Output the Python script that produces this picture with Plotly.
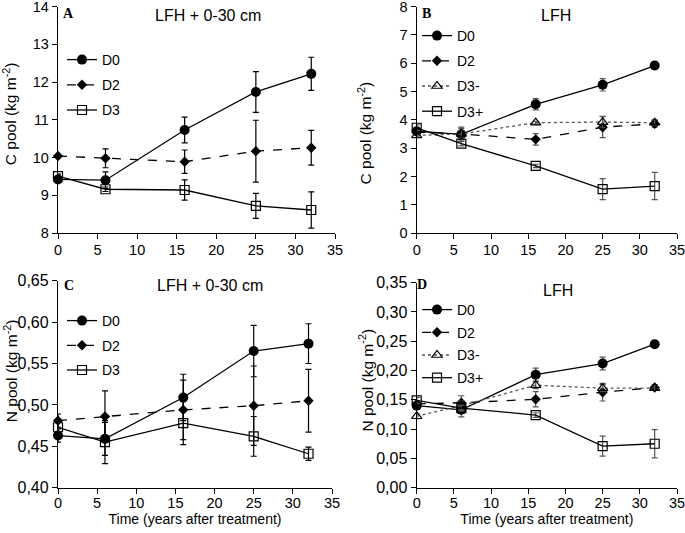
import plotly.graph_objects as go

years = [0, 6, 16, 25, 32]

# Panel A: C pool, LFH + 0-30 cm
a_d0 = [9.42, 9.40, 10.73, 11.74, 12.22]
a_d0_err = [0.06, 0.22, 0.34, 0.54, 0.44]
a_d2 = [10.04, 9.98, 9.89, 10.17, 10.26]
a_d2_err = [0.03, 0.25, 0.31, 0.82, 0.46]
a_d3 = [9.51, 9.16, 9.14, 8.72, 8.61]
a_d3_err = [0.05, 0.06, 0.27, 0.33, 0.48]

# Panel B: C pool, LFH
b_d0 = [3.60, 3.49, 4.55, 5.24, 5.92]
b_d0_err = [0.10, 0.25, 0.20, 0.22, 0.12]
b_d2 = [3.57, 3.50, 3.31, 3.74, 3.86]
b_d2_err = [0.05, 0.20, 0.20, 0.37, 0.12]
b_d3m = [3.45, 3.50, 3.90, 3.92, 3.90]
b_d3m_err = [0.05, 0.10, 0.05, 0.20, 0.10]
b_d3p = [3.72, 3.16, 2.37, 1.55, 1.66]
b_d3p_err = [0.10, 0.08, 0.06, 0.37, 0.48]

# Panel C: N pool, LFH + 0-30 cm
c_d0 = [0.463, 0.459, 0.509, 0.565, 0.574]
c_d0_err = [0.008, 0.020, 0.028, 0.031, 0.024]
c_d2 = [0.481, 0.486, 0.494, 0.499, 0.505]
c_d2_err = [0.008, 0.031, 0.036, 0.048, 0.038]
c_d3 = [0.473, 0.455, 0.478, 0.462, 0.441]
c_d3_err = [0.010, 0.026, 0.026, 0.024, 0.008]

# Panel D: N pool, LFH
d_d0 = [0.140, 0.133, 0.193, 0.212, 0.245]
d_d0_err = [0.005, 0.012, 0.011, 0.011, 0.004]
d_d2 = [0.143, 0.145, 0.151, 0.163, 0.171]
d_d2_err = [0.005, 0.012, 0.013, 0.015, 0.005]
d_d3m = [0.122, 0.140, 0.175, 0.170, 0.170]
d_d3m_err = [0.004, 0.008, 0.006, 0.006, 0.004]
d_d3p = [0.149, 0.136, 0.124, 0.071, 0.075]
d_d3p_err = [0.005, 0.005, 0.004, 0.017, 0.024]

x_ticks = [0, 5, 10, 15, 20, 25, 30, 35]
x_title = "Time (years after treatment)"
c_title = "C pool (kg m<sup>-2</sup>)"
n_title = "N pool (kg m<sup>-2</sup>)"

FONT = "Liberation Sans, Arial, sans-serif"
SERIF = "Liberation Serif, Times New Roman, serif"

STYLES = {
    "D0": dict(line=dict(color="black", width=1.3, dash="solid"),
               marker=dict(symbol="circle", size=10, color="black")),
    "D2": dict(line=dict(color="black", width=1.3, dash="dash"),
               marker=dict(symbol="diamond", size=8, color="black")),
    "D3": dict(line=dict(color="black", width=1.3, dash="solid"),
               marker=dict(symbol="square-open", size=9, color="black", line=dict(width=1.2))),
    "D3-": dict(line=dict(color="#555555", width=1.3, dash="dot"),
                marker=dict(symbol="triangle-up-open", size=9, color="black", line=dict(width=1.2))),
    "D3+": dict(line=dict(color="black", width=1.3, dash="solid"),
                marker=dict(symbol="square-open", size=9, color="black", line=dict(width=1.2))),
}

fig = go.Figure()

panels = [
    ("x", "y", "legend", "black",
     [("D0", a_d0, a_d0_err), ("D2", a_d2, a_d2_err), ("D3", a_d3, a_d3_err)]),
    ("x2", "y2", "legend2", "#555555",
     [("D0", b_d0, b_d0_err), ("D2", b_d2, b_d2_err), ("D3-", b_d3m, b_d3m_err), ("D3+", b_d3p, b_d3p_err)]),
    ("x3", "y3", "legend3", "black",
     [("D0", c_d0, c_d0_err), ("D2", c_d2, c_d2_err), ("D3", c_d3, c_d3_err)]),
    ("x4", "y4", "legend4", "#555555",
     [("D0", d_d0, d_d0_err), ("D2", d_d2, d_d2_err), ("D3-", d_d3m, d_d3m_err), ("D3+", d_d3p, d_d3p_err)]),
]

for xa, ya, leg, ecol, series in panels:
    for name, vals, errs in series:
        st = STYLES[name]
        fig.add_trace(go.Scatter(
            x=years, y=vals, name=name, mode="lines+markers",
            line=st["line"], marker=st["marker"],
            error_y=dict(type="data", array=errs, visible=True, color=ecol,
                         thickness=1.2, width=3),
            xaxis=xa, yaxis=ya, legend=leg, legendgroup=leg + name,
            cliponaxis=False,
        ))


def axis_common(tsize, standoff=0):
    return dict(
        showline=True, linecolor="black", linewidth=1.3, ticks="outside",
        ticklen=5, tickwidth=1.3, tickcolor="black", showgrid=False, zeroline=False,
        tickfont=dict(family=FONT, size=tsize, color="black"), mirror=False,
        automargin=False, ticklabeloverflow="allow", ticklabelstandoff=standoff,
    )


xa_dom_left = [58 / 685, 335 / 685]
xa_dom_right = [416.7 / 685, 677 / 685]
xc_dom_left = [58 / 685, 332 / 685]
y_top = [1 - 233 / 533, 1 - 6.7 / 533]
y_bot_c = [1 - 487.7 / 533, 1 - 280.7 / 533]
y_bot_d = [1 - 487.7 / 533, 1 - 282.7 / 533]

xtitle_font = dict(family=FONT, size=14, color="black")

fig.update_layout(
    template="none",
    width=685, height=533,
    margin=dict(l=0, r=0, t=0, b=0, autoexpand=False),
    paper_bgcolor="white", plot_bgcolor="white",
    separators=", ",
    font=dict(family=FONT, size=14, color="black"),
    xaxis=dict(domain=xa_dom_left, anchor="y", range=[0, 35], tickvals=x_ticks, **axis_common(14.5, -2)),
    yaxis=dict(domain=y_top, anchor="x", range=[8, 14], tickvals=[8, 9, 10, 11, 12, 13, 14],
               **axis_common(14.5)),
    xaxis2=dict(domain=xa_dom_right, anchor="y2", range=[0, 35], tickvals=x_ticks, **axis_common(14.5, -2)),
    yaxis2=dict(domain=y_top, anchor="x2", range=[0, 8], tickvals=list(range(0, 9)),
                **axis_common(14.5)),
    xaxis3=dict(domain=xc_dom_left, anchor="y3", range=[0, 35], tickvals=x_ticks,
                title=dict(text=x_title, font=xtitle_font, standoff=0), **axis_common(14.5, -3)),
    yaxis3=dict(domain=y_bot_c, anchor="x3", range=[0.40, 0.65],
                tickvals=[0.40, 0.45, 0.50, 0.55, 0.60, 0.65], tickformat=".2f",
                **axis_common(16)),
    xaxis4=dict(domain=xa_dom_right, anchor="y4", range=[0, 35], tickvals=x_ticks,
                title=dict(text=x_title, font=xtitle_font, standoff=0), **axis_common(14.5, -3)),
    yaxis4=dict(domain=y_bot_d, anchor="x4", range=[0, 0.35],
                tickvals=[0, 0.05, 0.10, 0.15, 0.20, 0.25, 0.30, 0.35], tickformat=".2f",
                **axis_common(16)),
)

leg_common = dict(bgcolor="rgba(0,0,0,0)", borderwidth=0, xanchor="left", yanchor="top",
                  font=dict(family=FONT, size=14, color="black"), itemwidth=30,
                  traceorder="grouped", itemclick=False, itemdoubleclick=False)
fig.update_layout(
    legend=dict(x=62 / 685, y=1 - 44 / 533, tracegroupgap=4, **leg_common),
    legend2=dict(x=417 / 685, y=1 - 20 / 533, tracegroupgap=4, **leg_common),
    legend3=dict(x=62 / 685, y=1 - 305 / 533, tracegroupgap=3.5, **leg_common),
    legend4=dict(x=417 / 685, y=1 - 294 / 533, tracegroupgap=1.5, **leg_common),
)

annotations = [
    ("x domain", "y domain", 0.037, 0.972, "<b>A</b>", SERIF, 14, 0),
    ("x domain", "y domain", 0.54, 0.959, "LFH + 0-30 cm", FONT, 16, 0),
    ("x2 domain", "y2 domain", 0.036, 0.972, "<b>B</b>", SERIF, 14, 0),
    ("x2 domain", "y2 domain", 0.536, 0.963, "LFH", FONT, 16, 0),
    ("x3 domain", "y3 domain", 0.04, 0.979, "<b>C</b>", SERIF, 14, 0),
    ("x3 domain", "y3 domain", 0.555, 0.979, "LFH + 0-30 cm", FONT, 16, 0),
    ("x4 domain", "y4 domain", 0.019, 0.989, "<b>D</b>", SERIF, 14, 0),
    ("x4 domain", "y4 domain", 0.542, 0.961, "LFH", FONT, 16, 0),
    ("paper", "y domain", 10 / 685, 0.525, c_title, FONT, 15.5, -90),
    ("paper", "y2 domain", 365 / 685, 0.44, c_title, FONT, 15.5, -90),
    ("paper", "y3 domain", 10.5 / 685, 0.565, n_title, FONT, 15.5, -90),
    ("paper", "y4 domain", 366.5 / 685, 0.525, n_title, FONT, 15.5, -90),
]
for xr, yr, x, y, t, fam, sz, ang in annotations:
    fig.add_annotation(xref=xr, yref=yr, x=x, y=y, text=t, showarrow=False,
                       xanchor="center", yanchor="middle", textangle=ang,
                       font=dict(family=fam, size=sz, color="black"))

fig.write_html("out.html", config={"displayModeBar": False},
               post_script="document.body.style.margin='0';")
